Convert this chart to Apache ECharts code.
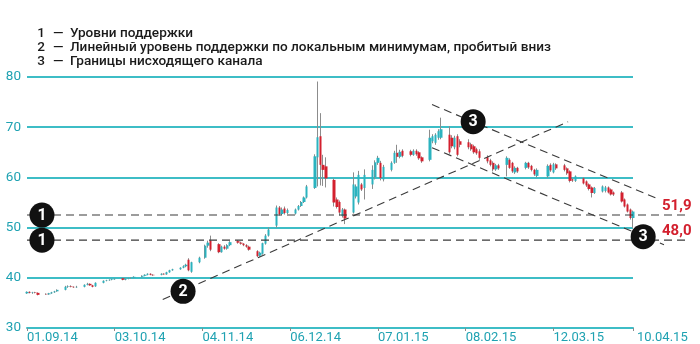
<!DOCTYPE html>
<html><head><meta charset="utf-8">
<script src="https://cdn.jsdelivr.net/npm/echarts@6/dist/echarts.min.js"></script>
<style>html,body{margin:0;padding:0;background:#fff}#c{width:700px;height:344px}</style>
</head><body><div id="c"></div>
<script>
// ---- data ----
const dates = [
'2014-09-01','2014-09-02','2014-09-03','2014-09-04','2014-09-05',
'2014-09-08','2014-09-09','2014-09-10','2014-09-11','2014-09-12',
'2014-09-15','2014-09-16','2014-09-17','2014-09-18','2014-09-19',
'2014-09-22','2014-09-23','2014-09-24','2014-09-25','2014-09-26',
'2014-09-29','2014-09-30','2014-10-01','2014-10-02','2014-10-03',
'2014-10-06','2014-10-07','2014-10-08','2014-10-09','2014-10-10',
'2014-10-13','2014-10-14','2014-10-15','2014-10-16','2014-10-17',
'2014-10-20','2014-10-21','2014-10-22','2014-10-23','2014-10-24',
'2014-10-27','2014-10-28','2014-10-29','2014-10-30','2014-10-31',
'2014-11-03','2014-11-05','2014-11-06','2014-11-07',
'2014-11-10','2014-11-11','2014-11-12','2014-11-13','2014-11-14',
'2014-11-17','2014-11-18','2014-11-19','2014-11-20','2014-11-21',
'2014-11-24','2014-11-25','2014-11-26','2014-11-27','2014-11-28',
'2014-12-01','2014-12-02','2014-12-03','2014-12-04','2014-12-05',
'2014-12-08','2014-12-09','2014-12-10','2014-12-11','2014-12-12',
'2014-12-15','2014-12-16','2014-12-17','2014-12-18','2014-12-19',
'2014-12-22','2014-12-23','2014-12-24','2014-12-25','2014-12-26',
'2014-12-29','2014-12-30','2014-12-31','2015-01-01','2015-01-02',
'2015-01-05','2015-01-06','2015-01-07','2015-01-08','2015-01-09',
'2015-01-12','2015-01-13','2015-01-14','2015-01-15','2015-01-16',
'2015-01-19','2015-01-20','2015-01-21','2015-01-22','2015-01-23',
'2015-01-26','2015-01-27','2015-01-28','2015-01-29','2015-01-30',
'2015-02-02','2015-02-03','2015-02-04','2015-02-05','2015-02-06',
'2015-02-09','2015-02-10','2015-02-11','2015-02-12','2015-02-13',
'2015-02-16','2015-02-17','2015-02-18','2015-02-19','2015-02-20',
'2015-02-23','2015-02-24','2015-02-25','2015-02-26','2015-02-27',
'2015-03-02','2015-03-03','2015-03-04','2015-03-05','2015-03-06',
'2015-03-10','2015-03-11','2015-03-12','2015-03-13',
'2015-03-16','2015-03-17','2015-03-18','2015-03-19','2015-03-20',
'2015-03-23','2015-03-24','2015-03-25','2015-03-26','2015-03-27',
'2015-03-30','2015-03-31','2015-04-01','2015-04-02','2015-04-03',
'2015-04-06','2015-04-07','2015-04-08','2015-04-09','2015-04-10'
];
const opens = [
36.9,37.2,37.0,37.1,37.0, 36.8,36.7,36.9,37.1,37.3, 37.6,38.2,38.3,38.2,38.1,
38.2,38.6,38.8,38.5,38.3, 39.0,39.4,39.5,39.6,39.7, 39.9,39.6,39.8,39.9,40.0,
40.2,40.4,40.6,40.8,40.6, 40.6,40.8,40.7,41.1,41.5, 41.7,42.0,42.3,43.6,41.2,
43.1,44.0,46.4,47.4, 46.7,45.1,46.2,45.8,46.5, 47.3,47.0,46.8,46.5,46.2,
45.3,44.4,44.8,46.8,48.4, 50.4,54.0,52.7,53.8,52.9, 52.8,53.6,54.3,55.1,56.0,
57.9,64.0,68.2,62.5,62.2, 59.5,55.6,55.1,52.3,53.6, 53.0,56.2,55.0,58.6,57.9,
58.6,60.0,62.9,62.9,59.6, 61.5,62.9,64.9,64.1,65.3, 65.2,64.5,65.3,65.0,64.0,
63.5,67.2,66.9,67.9,67.9, 68.5,67.9,66.0,68.2,67.2, 67.0,66.6,66.2,65.6,65.2,
64.0,63.4,62.9,61.6,62.4, 62.5,63.5,62.9,61.0,61.9, 61.9,62.9,62.3,61.5,60.3,
60.2,62.5,61.0,62.6, 62.4,61.8,61.2,59.6,59.3, 59.8,59.2,58.6,58.0,56.9,
57.2,57.3,58.0,57.6,57.0, 57.0,55.6,54.6,53.6,51.9
];
const closes = [
37.2,37.0,37.1,37.0,36.6, 36.7,36.9,37.1,37.3,37.6, 38.2,38.3,38.2,38.1,38.2,
38.6,38.8,38.5,38.2,39.0, 39.4,39.5,39.6,39.7,39.8, 39.6,39.8,39.9,40.0,40.2,
40.4,40.6,40.8,40.6,40.5, 40.8,40.7,41.1,41.5,41.7, 42.0,42.3,42.6,41.5,43.1,
44.0,46.4,47.0,45.6, 45.1,46.2,45.8,46.5,47.1, 47.0,46.8,46.5,46.2,45.6,
44.3,45.0,46.9,48.4,49.6, 54.0,52.7,53.6,52.9,53.5, 53.6,54.3,55.1,56.0,58.2,
64.2,68.0,62.5,61.5,59.8, 55.0,54.1,53.0,53.6,51.8, 58.6,58.2,60.5,57.6,60.5,
61.5,63.0,63.9,59.9,62.1, 62.9,64.9,64.1,65.1,64.3, 64.5,65.3,64.6,63.8,63.2,
67.9,68.2,68.5,69.2,69.6, 65.0,66.2,67.9,64.5,66.5, 66.0,65.6,65.0,64.8,63.9,
63.2,62.5,61.6,62.4,61.8, 63.9,61.9,61.2,61.9,61.2, 62.9,62.0,61.5,60.6,61.5,
62.3,61.4,62.6,61.8, 61.5,60.8,59.3,59.4,60.2, 58.8,58.4,57.7,56.9,57.9,
58.2,58.0,57.0,56.6,56.6, 55.2,54.2,53.2,51.9,53.2
];
const lows = [
36.8,36.9,36.8,36.9,36.5, 36.6,36.6,36.8,37.0,37.2, 37.5,38.0,38.1,38.0,38.0,
38.1,38.5,38.4,38.1,38.2, 38.9,39.3,39.4,39.5,39.6, 39.5,39.5,39.7,39.8,39.9,
40.1,40.3,40.5,40.5,40.4, 40.5,40.6,40.6,41.0,41.4, 41.6,41.9,42.1,41.3,41.0,
42.9,43.8,46.0,45.3, 44.9,45.0,45.6,45.6,46.3, 46.8,46.6,46.3,46.0,45.4,
44.1,44.2,44.6,46.6,48.2, 50.0,52.4,52.5,52.6,52.7, 52.6,53.4,54.1,54.9,55.8,
57.7,58.2,58.4,58.3,58.0, 54.2,53.8,52.4,52.0,50.7, 52.8,55.8,54.6,57.3,55.6,
57.7,59.6,62.5,59.4,59.2, 61.2,62.7,62.9,63.8,64.0, 64.2,64.3,64.3,63.5,62.9,
63.2,66.8,66.5,67.5,67.6, 64.7,65.8,65.6,64.2,66.0, 65.6,65.3,64.7,64.5,63.5,
62.8,62.2,61.2,61.3,61.5, 60.2,61.7,60.9,60.7,60.9, 61.6,61.7,61.2,60.3,60.0,
59.9,61.1,60.8,61.5, 61.2,60.5,59.0,59.1,59.1, 58.6,58.1,57.4,56.0,56.7,
57.0,57.0,56.8,56.4,56.3, 55.0,54.0,53.0,51.6,49.9
];
const highs = [
37.3,37.3,37.2,37.2,37.1, 36.9,37.0,37.2,37.4,37.7, 38.4,38.5,38.5,38.3,38.4,
38.7,39.0,38.9,38.6,39.1, 39.5,39.6,39.7,39.8,39.9, 40.0,39.9,40.0,40.1,40.3,
40.5,40.7,40.9,40.9,40.7, 40.9,40.9,41.2,41.6,41.8, 42.1,42.5,42.8,43.9,43.2,
44.2,46.6,47.4,48.4, 46.9,46.4,46.5,46.7,47.3, 47.5,47.2,46.9,46.7,46.4,
45.5,45.2,47.0,48.7,50.0, 54.4,54.3,54.0,54.2,53.8, 53.8,54.5,55.3,56.2,58.5,
64.6,79.1,72.8,64.5,64.0, 59.8,56.0,55.4,53.9,53.8, 61.0,58.6,61.3,58.9,61.6,
62.4,63.4,64.3,63.3,62.5, 63.2,65.3,66.5,65.5,65.6, 65.5,65.6,65.6,65.2,64.2,
69.5,68.6,68.8,69.6,71.9, 70.2,68.4,68.3,68.6,67.6, 67.6,66.9,66.5,65.9,65.6,
64.4,63.7,63.2,62.7,62.7, 64.2,63.8,63.1,62.2,62.1, 63.1,63.1,62.5,61.7,61.8,
62.6,62.8,62.9,62.8, 62.7,62.0,61.4,59.8,60.4, 60.0,59.4,58.8,58.2,58.1,
58.4,58.3,58.2,57.8,57.2, 57.3,55.8,54.8,53.8,53.4
];
const yTicks = [30, 40, 50, 60, 70, 80];
const xTickDates = ['2014-09-01','2014-10-03','2014-11-04','2014-12-06','2015-01-07','2015-02-08','2015-03-12','2015-04-10'];
const legendItems = [
  ['1', 'Уровни поддержки'],
  ['2', 'Линейный уровень поддержки по локальным минимумам, пробитый вниз'],
  ['3', 'Границы нисходящего канала']
];
const levelValues = [52.5, 47.5];
const levelLabels = ['51,9', '48,0'];
const levelSpan = ['2014-09-01', '2015-04-30'];
const supportLine = [['2014-10-20 12:00', 35.7], ['2015-03-17 08:00', 71.1]];
const channelUpper = [['2015-01-26 17:00', 74.5], ['2015-04-18 19:00', 55.8]];
const channelLower = [['2015-01-26 17:00', 65.9], ['2015-04-21 07:00', 46.6]];
const badges = [
  ['1', '2014-09-06 11:00', 52.5],
  ['1', '2014-09-06 11:00', 47.5],
  ['2', '2014-10-27 22:00', 37.3],
  ['3', '2015-02-10 17:00', 71.1],
  ['3', '2015-04-13 17:00', 48.2]
];

// ---- helpers ----
function ts(s) {
  const parts = s.split(' ');
  const d = parts[0].split('-').map(Number);
  let h = 0, m = 0;
  if (parts[1]) { const t = parts[1].split(':').map(Number); h = t[0]; m = t[1]; }
  return new Date(d[0], d[1] - 1, d[2], h, m).getTime();
}
function pad(n) { return (n < 10 ? '0' : '') + n; }
function fmt(v) {
  const d = new Date(v);
  return pad(d.getDate()) + '.' + pad(d.getMonth() + 1) + '.' + String(d.getFullYear()).slice(2);
}

const TEAL = '#3dbdc6';
const TEAL_TXT = '#1fa2b2';
const RED = '#d3202e';
const AXFONT = "Roboto, sans-serif";
const TXT = '#1a1a1a';
const LEGFONT = '500 13.6px Roboto, sans-serif';

const wickData = dates.map((d, i) => [ts(d), opens[i], closes[i], lows[i], highs[i]]);
const bodyData = dates.map((d, i) => [ts(d), opens[i], closes[i], Math.min(opens[i], closes[i]), Math.max(opens[i], closes[i])]);
const xTicks = xTickDates.map(ts);
const lastTick = xTicks[xTicks.length - 1];

const chart = echarts.init(document.getElementById('c'), null, { renderer: 'canvas' });
chart.setOption({
  animation: false,
  grid: { left: 27, right: 67, top: 77, bottom: 15.5 },
  xAxis: {
    type: 'value',
    scale: true,
    min: ts(xTickDates[0]),
    max: lastTick,
    axisLine: { lineStyle: { color: TEAL, width: 2 } },
    axisTick: { show: true, customValues: xTicks, length: 3, lineStyle: { color: '#8a8a8a', width: 1 } },
    axisLabel: {
      customValues: xTicks,
      align: 'left',
      margin: 3,
      color: TEAL_TXT,
      fontSize: 13,
      fontFamily: AXFONT,
      formatter: function (v) {
        return v >= lastTick ? '{e|' + fmt(v) + '}' : fmt(v);
      },
      rich: { e: { padding: [0, 0, 0, 4], color: TEAL_TXT, fontSize: 13, fontFamily: AXFONT } }
    },
    splitLine: { show: false }
  },
  yAxis: {
    type: 'value',
    min: yTicks[0],
    max: yTicks[yTicks.length - 1],
    interval: yTicks[1] - yTicks[0],
    axisLine: { show: false },
    axisTick: { show: false },
    axisLabel: { color: TEAL_TXT, fontSize: 13.5, fontFamily: AXFONT, margin: 6 },
    splitLine: { lineStyle: { color: TEAL, width: 2 } }
  },
  series: [
    {
      type: 'candlestick',
      data: wickData,
      encode: { x: 0, y: [1, 2, 3, 4] },
      barWidth: 1,
      clip: false,
      itemStyle: { color: '#8c8c8c', color0: '#8c8c8c', borderColor: '#8c8c8c', borderColor0: '#8c8c8c', borderWidth: 1 },
      z: 2
    },
    {
      type: 'candlestick',
      data: bodyData,
      encode: { x: 0, y: [1, 2, 3, 4] },
      barWidth: 2.8,
      clip: false,
      itemStyle: { color: '#2bb3bf', color0: RED, borderColor: '#2bb3bf', borderColor0: RED, borderWidth: 0 },
      z: 3
    }
  ]
});

function px(t, v) { return chart.convertToPixel({ gridIndex: 0 }, [ts(t), v]); }
const dashStyle = { stroke: '#3a3a3a', lineWidth: 1.1, lineDash: [8, 5] };
const g = [];
function addLine(a, b) {
  const p = px(a[0], a[1]), q = px(b[0], b[1]);
  g.push({ type: 'line', z: 100, shape: { x1: p[0], y1: p[1], x2: q[0], y2: q[1] }, style: dashStyle });
}
levelValues.forEach(v => addLine([levelSpan[0], v], [levelSpan[1], v]));
addLine(supportLine[0], supportLine[1]);
addLine(channelUpper[0], channelUpper[1]);
addLine(channelLower[0], channelLower[1]);

levelValues.forEach((v, i) => {
  const p = px(levelSpan[1], v);
  g.push({ type: 'text', z: 120, x: 662, y: p[1] - 9,
    style: { text: levelLabels[i], fill: RED, font: 'bold 15px Roboto, sans-serif', align: 'left', verticalAlign: 'middle' } });
});

badges.forEach(b => {
  const p = px(b[1], b[2]);
  g.push({ type: 'circle', z: 110, shape: { cx: p[0], cy: p[1], r: 12.5 }, style: { fill: '#111111' } });
  g.push({ type: 'text', z: 111, x: p[0], y: p[1] + 0.5,
    style: { text: b[0], fill: '#ffffff', font: 'bold 16px Roboto, sans-serif', align: 'center', verticalAlign: 'middle' } });
});

legendItems.forEach((it, i) => {
  const y = 34 + i * 14;
  g.push({ type: 'text', z: 120, x: 45, y: y, style: { text: it[0], fill: TXT, font: LEGFONT, align: 'right', verticalAlign: 'middle' } });
  g.push({ type: 'text', z: 120, x: 53, y: y, style: { text: '—', fill: TXT, font: LEGFONT, align: 'left', verticalAlign: 'middle' } });
  g.push({ type: 'text', z: 120, x: 70, y: y, style: { text: it[1], fill: TXT, font: LEGFONT, align: 'left', verticalAlign: 'middle' } });
});

chart.setOption({ graphic: g });
</script>
</body></html>
